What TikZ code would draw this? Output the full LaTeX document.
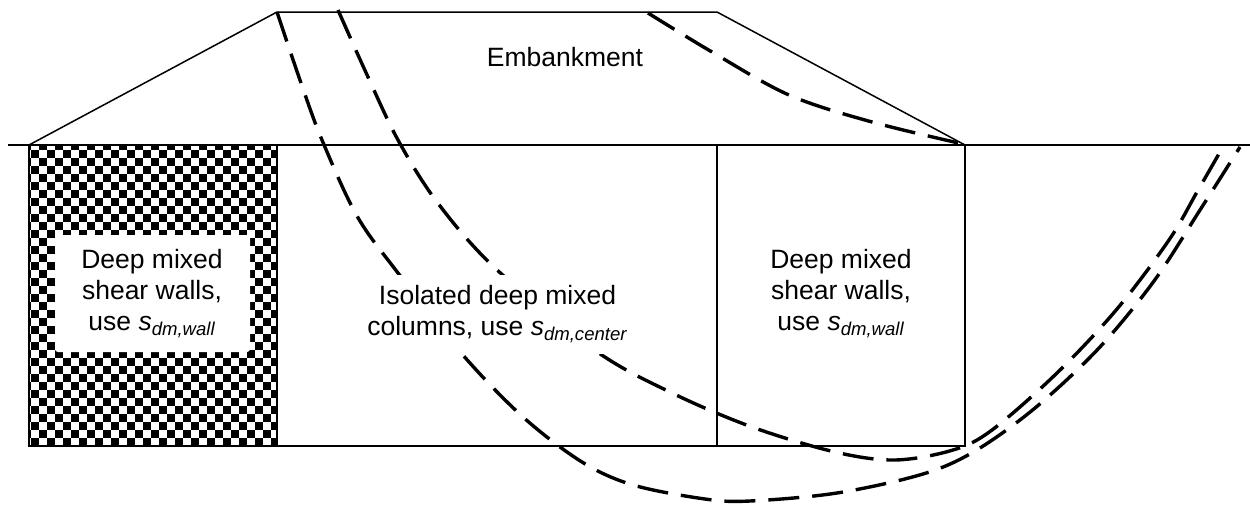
\documentclass[tikz,border=0pt]{standalone}
\usepackage{fontspec}
\setmainfont{Liberation Sans}
\tikzset{
  px/.style={x=1pt,y=-1pt},
  line/.style={draw=black,line width=1.5pt},
  slip/.style={draw=black,line width=3.4pt,dash pattern=on 31pt off 13pt},
  lab/.style={align=center,font=\fontsize{26.5}{31}\selectfont,inner sep=0pt}
}
\begin{document}
\begin{tikzpicture}[px]
\useasboundingbox (0,0) rectangle (1250,504);
\fill[white] (0,0) rectangle (1250,504);
% checker
\begin{scope}
\clip (29,145) rectangle (277,446);
\foreach \i in {-1,...,31}{
  \foreach \j in {-1,...,37}{
    \pgfmathtruncatemacro{\k}{mod(\i+\j+2,2)}
    \ifnum\k=0
      \fill[black] ({31+8*\i},{150+8*\j}) rectangle ++(8,8);
    \fi
  }
}
\end{scope}
\fill[white,rounded corners=3pt] (55,235) rectangle (250,352);
% geometry
\coordinate (gl) at (8,145);
\coordinate (gr) at (1250,145);
\coordinate (t) at (29,145);
\coordinate (a) at (277,12);
\coordinate (b) at (717,12);
\coordinate (c) at (965,145);
\coordinate (d) at (717,145);
\coordinate (e) at (277,145);
\coordinate (t2) at (29,446);
\coordinate (e2) at (277,446);
\coordinate (d2) at (717,446);
\coordinate (c2) at (965,446);
\draw[line] (gl) -- (gr);
\draw[line] (t) -- (a) -- (b) -- (c);
\draw[line] (t) -- (t2) -- (c2) -- (c);
\draw[line] (e) -- (e2);
\draw[line] (d) -- (d2);
% slip surfaces
\draw[slip] plot[smooth,tension=0.55] coordinates {(277,12) (301,83) (322,140) (357,216) (398,273) (462,354) (523,417) (582,462) (633,485) (705,499) (750,501) (837,493) (923,474) (975,451) (1035,408) (1099,348) (1154,281) (1200,210) (1240,147)};
\draw[slip] plot[smooth,tension=0.55] coordinates {(338,10) (368,77) (398,140) (437,202) (495,268) (596,351) (672,393) (752,427) (835,452) (895,460) (953,450) (992,430) (1057,373) (1117,309) (1169,240) (1197,192) (1220,152)};
\draw[slip] plot[smooth,tension=0.55] coordinates {(648,13) (712,52) (789,95) (872,122) (963,144)};
\node[lab] (n1) at (565,57) {Embankment};
\node[lab] (n2) at (152,293.5) {Deep mixed\\shear walls,\\use \textit{s}\textsubscript{\textit{dm,wall}}};
\node[lab,fill=white,minimum width=256pt,minimum height=79pt] (n3) at (497.5,314) {Isolated deep mixed\\columns, use \textit{s}\textsubscript{\textit{dm,center}}};
\node[lab] (n4) at (841,293.5) {Deep mixed\\shear walls,\\use \textit{s}\textsubscript{\textit{dm,wall}}};
\end{tikzpicture}
\end{document}
